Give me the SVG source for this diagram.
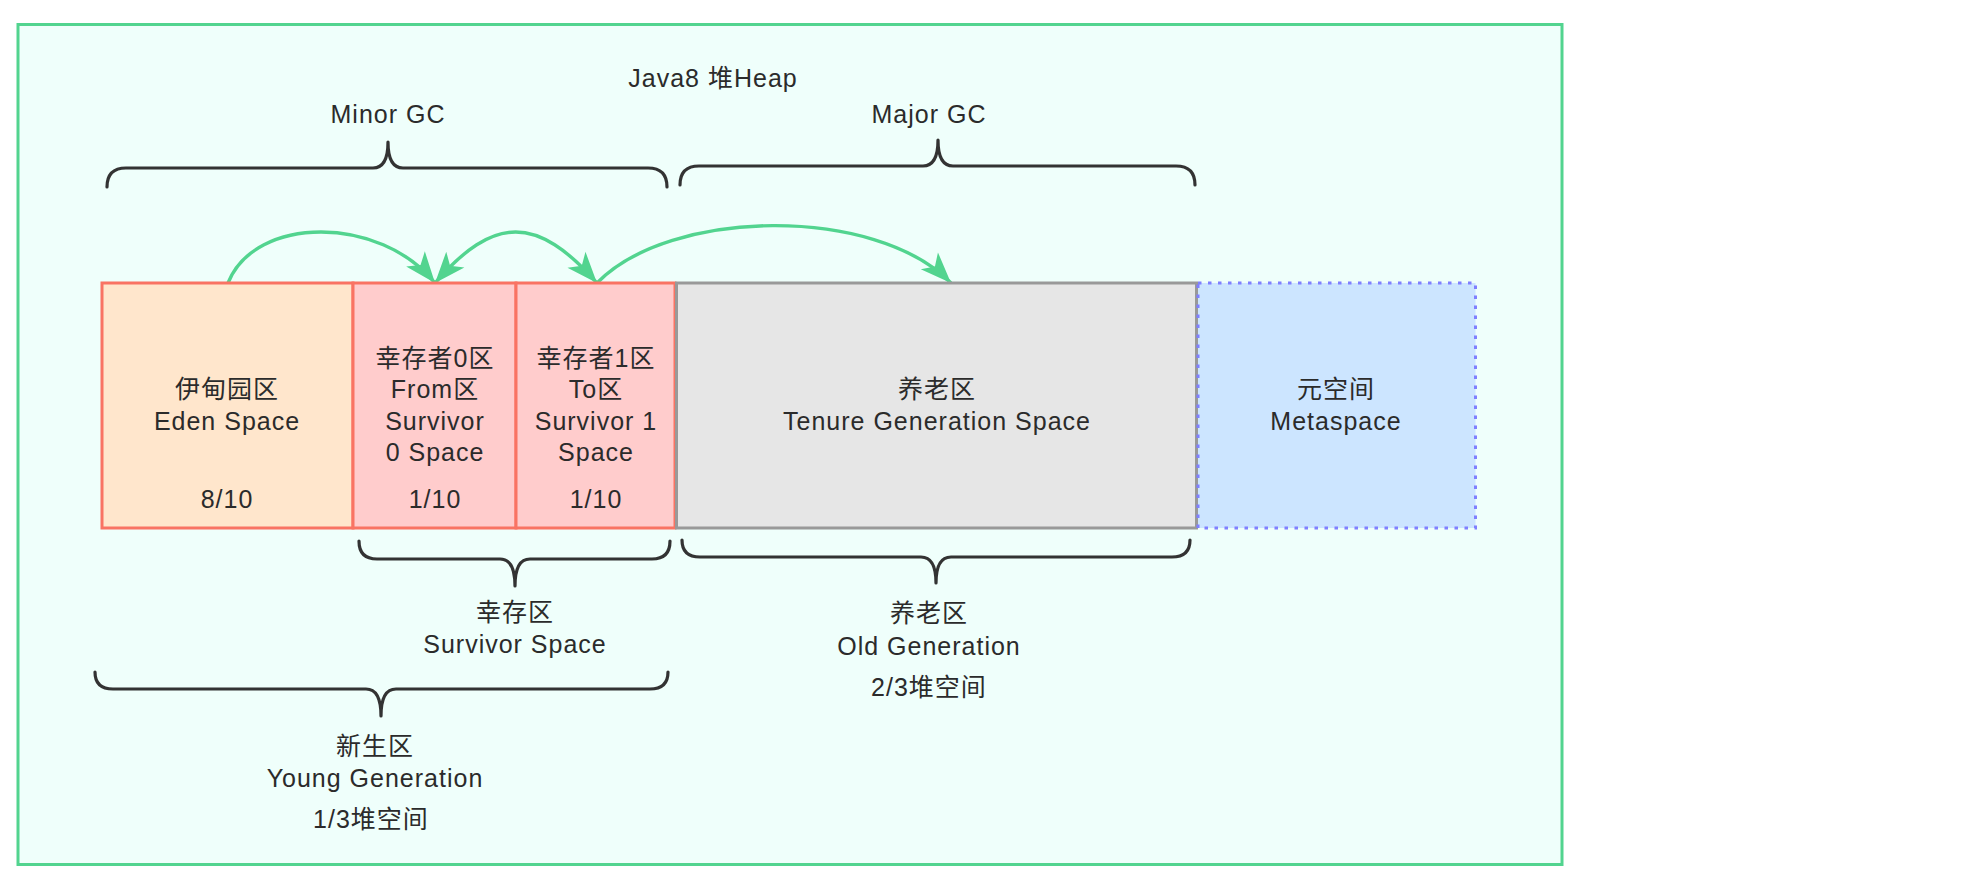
<svg xmlns="http://www.w3.org/2000/svg" width="1988" height="886" viewBox="0 0 1988 886">
<defs>
<style>
.t{font-family:"Liberation Sans","Noto Sans CJK SC",sans-serif;font-size:25px;letter-spacing:1px;fill:#2B2B2B;text-anchor:middle}
.brace{fill:none;stroke:#333333;stroke-width:3.2;stroke-linecap:round;stroke-linejoin:round}
.conn{fill:none;stroke:#52D48F;stroke-width:3.4}
.red{stroke:#F97363;stroke-width:3}
</style>
<marker id="ah" markerUnits="userSpaceOnUse" markerWidth="38" markerHeight="30" viewBox="-34 -15 38 30" refX="0" refY="0" orient="auto-start-reverse">
<path d="M0,0 L-31,-12 L-23,0 L-31,12 Z" fill="#52D48F"/>
</marker>
</defs>
<rect width="1988" height="886" fill="#FFFFFF"/>
<g id="heap">
<rect x="18" y="24.5" width="1544" height="840" fill="#EFFFFB" stroke="#52D48F" stroke-width="3"/>
<text class="t" x="713" y="87">Java8 堆Heap</text>
</g>
<g id="connectors">
<path class="conn" d="M228,283 C255,215 380,215 435,283" marker-end="url(#ah)"/>
<path class="conn" d="M435,283 C494,215 537,215 597,283" marker-start="url(#ah)" marker-end="url(#ah)"/>
<path class="conn" d="M597,283 C670,208 875,205 951,283" marker-end="url(#ah)"/>
</g>
<g id="eden">
<rect class="red" x="102" y="283" width="251" height="245" fill="#FFE6CC"/>
<text class="t" x="227" y="398">伊甸园区</text>
<text class="t" x="227" y="430">Eden Space</text>
<text class="t" x="227" y="508">8/10</text>
</g>
<g id="survivor0">
<rect class="red" x="353" y="283" width="163" height="245" fill="#FFCCCC"/>
<text class="t" x="435" y="367">幸存者0区</text>
<text class="t" x="435" y="398">From区</text>
<text class="t" x="435" y="430">Survivor</text>
<text class="t" x="435" y="461">0 Space</text>
<text class="t" x="435" y="508">1/10</text>
</g>
<g id="survivor1">
<rect class="red" x="516" y="283" width="159" height="245" fill="#FFCCCC"/>
<text class="t" x="596" y="367">幸存者1区</text>
<text class="t" x="596" y="398">To区</text>
<text class="t" x="596" y="430">Survivor 1</text>
<text class="t" x="596" y="461">Space</text>
<text class="t" x="596" y="508">1/10</text>
</g>
<g id="tenure">
<rect x="676.5" y="283" width="520" height="245" fill="#E6E6E6" stroke="#999999" stroke-width="3"/>
<text class="t" x="937" y="398">养老区</text>
<text class="t" x="937" y="430">Tenure Generation Space</text>
</g>
<g id="metaspace">
<rect x="1198" y="283" width="277.5" height="245" fill="#CCE5FF" stroke="#7F7FFF" stroke-width="3" stroke-dasharray="3.5 6.5"/>
<text class="t" x="1336" y="398">元空间</text>
<text class="t" x="1336" y="430">Metaspace</text>
</g>
<g id="minor-gc">
<path class="brace" d="M107,187 Q107,168 126,168 H373 Q388,168 388,142 Q388,168 403,168 H648 Q667,168 667,187"/>
<text class="t" x="388" y="123">Minor GC</text>
</g>
<g id="major-gc">
<path class="brace" d="M680,185 Q680,166 699,166 H923 Q938,166 938,140 Q938,166 953,166 H1176 Q1195,166 1195,185"/>
<text class="t" x="929" y="123">Major GC</text>
</g>
<g id="survivor-space">
<path class="brace" d="M359,541 Q359,559 377,559 H500 Q515,559 515,586 Q515,559 530,559 H652 Q670,559 670,541"/>
<text class="t" x="515" y="621">幸存区</text>
<text class="t" x="515" y="653">Survivor Space</text>
</g>
<g id="old-generation">
<path class="brace" d="M682,540 Q682,557 700,557 H921 Q936,557 936,583 Q936,557 951,557 H1172 Q1190,557 1190,540"/>
<text class="t" x="929" y="622">养老区</text>
<text class="t" x="929" y="655">Old Generation</text>
<text class="t" x="929" y="696">2/3堆空间</text>
</g>
<g id="young-generation">
<path class="brace" d="M95,672 Q95,689 113,689 H366 Q381,689 381,716 Q381,689 396,689 H650 Q668,689 668,672"/>
<text class="t" x="375" y="755">新生区</text>
<text class="t" x="375" y="787">Young Generation</text>
<text class="t" x="371" y="828">1/3堆空间</text>
</g>
</svg>
